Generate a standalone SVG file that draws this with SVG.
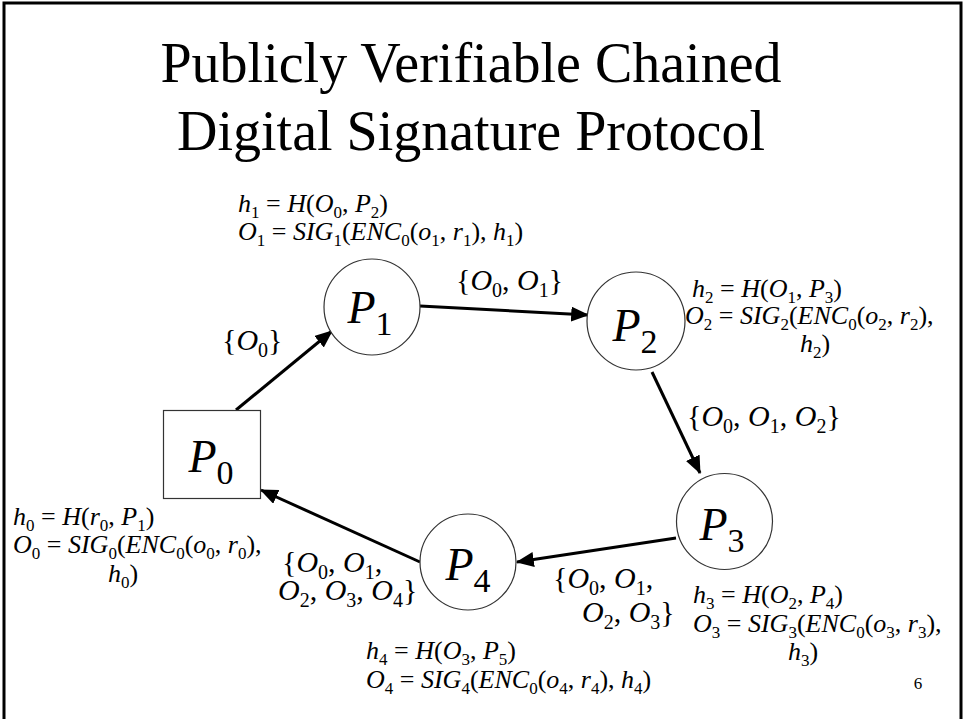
<svg xmlns="http://www.w3.org/2000/svg" width="965" height="719" viewBox="0 0 965 719">
<defs>
<style>
.t{font-family:"Liberation Serif","Times New Roman",serif;fill:#000}
.i{font-style:italic}
.eq{font-size:26px}
.eq .sb{font-size:17px}
.set{font-size:30px}
.set .sb{font-size:20px}
.nd{font-size:46px}
.nd .sb{font-size:34px}
.shape{fill:#fff;stroke:#333;stroke-width:1.2}
.edge{stroke:#000;stroke-width:3;fill:none;marker-end:url(#ah)}
</style>
<marker id="ah" viewBox="0 0 6 5" markerWidth="6" markerHeight="5" refX="5.6" refY="2.5" orient="auto">
<path d="M0,0 L6,2.5 L0,5 z" fill="#000"/>
</marker>
</defs>
<rect width="965" height="719" fill="#fff"/>
<rect x="4" y="3" width="957" height="740" fill="none" stroke="#000" stroke-width="3"/>

<text class="t" font-size="56" text-anchor="middle" x="471" y="82">Publicly Verifiable Chained</text>
<text class="t" font-size="56" text-anchor="middle" x="471" y="150">Digital Signature Protocol</text>

<g id="connectors">
<line class="edge" x1="236" y1="410" x2="332" y2="331"/>
<line class="edge" x1="420" y1="306" x2="588" y2="315"/>
<line class="edge" x1="652" y1="372" x2="700" y2="473"/>
<line class="edge" x1="676" y1="538" x2="517" y2="562"/>
<line class="edge" x1="420" y1="562" x2="261" y2="490"/>
</g>

<g id="P0">
<rect class="shape" x="163.5" y="410.5" width="97" height="88"/>
<text class="t nd" x="211" y="472" text-anchor="middle"><tspan class="i">P</tspan><tspan class="sb" dy="12">0</tspan></text>
</g>
<g id="P1">
<circle class="shape" cx="372" cy="307" r="48"/>
<text class="t nd" x="370" y="323" text-anchor="middle"><tspan class="i">P</tspan><tspan class="sb" dy="12">1</tspan></text>
</g>
<g id="P2">
<circle class="shape" cx="636" cy="321" r="49"/>
<text class="t nd" x="635" y="341" text-anchor="middle"><tspan class="i">P</tspan><tspan class="sb" dy="12">2</tspan></text>
</g>
<g id="P3">
<circle class="shape" cx="724.5" cy="521.5" r="48"/>
<text class="t nd" x="722" y="540" text-anchor="middle"><tspan class="i">P</tspan><tspan class="sb" dy="12">3</tspan></text>
</g>
<g id="P4">
<circle class="shape" cx="468" cy="562" r="48"/>
<text class="t nd" x="468" y="580" text-anchor="middle"><tspan class="i">P</tspan><tspan class="sb" dy="12">4</tspan></text>
</g>

<g id="edge-labels">
<text class="t set" x="222" y="350">{<tspan class="i">O</tspan><tspan class="sb" dy="7">0</tspan><tspan dy="-7">}</tspan></text>
<text class="t set" x="456" y="290">{<tspan class="i">O</tspan><tspan class="sb" dy="7">0</tspan><tspan dy="-7">, </tspan><tspan class="i">O</tspan><tspan class="sb" dy="7">1</tspan><tspan dy="-7">}</tspan></text>
<text class="t set" x="687" y="426">{<tspan class="i">O</tspan><tspan class="sb" dy="7">0</tspan><tspan dy="-7">, </tspan><tspan class="i">O</tspan><tspan class="sb" dy="7">1</tspan><tspan dy="-7">, </tspan><tspan class="i">O</tspan><tspan class="sb" dy="7">2</tspan><tspan dy="-7">}</tspan></text>
<text class="t set" x="553" y="588">{<tspan class="i">O</tspan><tspan class="sb" dy="7">0</tspan><tspan dy="-7">, </tspan><tspan class="i">O</tspan><tspan class="sb" dy="7">1</tspan><tspan dy="-7">,</tspan></text>
<text class="t set" x="582" y="622"><tspan class="i">O</tspan><tspan class="sb" dy="7">2</tspan><tspan dy="-7">, </tspan><tspan class="i">O</tspan><tspan class="sb" dy="7">3</tspan><tspan dy="-7">}</tspan></text>
<text class="t set" x="282" y="572">{<tspan class="i">O</tspan><tspan class="sb" dy="7">0</tspan><tspan dy="-7">, </tspan><tspan class="i">O</tspan><tspan class="sb" dy="7">1</tspan><tspan dy="-7">,</tspan></text>
<text class="t set" x="278" y="600"><tspan class="i">O</tspan><tspan class="sb" dy="7">2</tspan><tspan dy="-7">, </tspan><tspan class="i">O</tspan><tspan class="sb" dy="7">3</tspan><tspan dy="-7">, </tspan><tspan class="i">O</tspan><tspan class="sb" dy="7">4</tspan><tspan dy="-7">}</tspan></text>
</g>

<g id="notes">
<!-- P1 -->
<text class="t eq" x="238" y="212"><tspan class="i">h</tspan><tspan class="sb" dy="6">1</tspan><tspan dy="-6"> = </tspan><tspan class="i">H</tspan><tspan>(</tspan><tspan class="i">O</tspan><tspan class="sb" dy="6">0</tspan><tspan dy="-6">, </tspan><tspan class="i">P</tspan><tspan class="sb" dy="6">2</tspan><tspan dy="-6">)</tspan></text>
<text class="t eq" x="238" y="240"><tspan class="i">O</tspan><tspan class="sb" dy="6">1</tspan><tspan dy="-6"> = </tspan><tspan class="i">SIG</tspan><tspan class="sb" dy="6">1</tspan><tspan dy="-6">(</tspan><tspan class="i">ENC</tspan><tspan class="sb" dy="6">0</tspan><tspan dy="-6">(</tspan><tspan class="i">o</tspan><tspan class="sb" dy="6">1</tspan><tspan dy="-6">, </tspan><tspan class="i">r</tspan><tspan class="sb" dy="6">1</tspan><tspan dy="-6">), </tspan><tspan class="i">h</tspan><tspan class="sb" dy="6">1</tspan><tspan dy="-6">)</tspan></text>
<!-- P2 -->
<text class="t eq" x="692" y="297"><tspan class="i">h</tspan><tspan class="sb" dy="6">2</tspan><tspan dy="-6"> = </tspan><tspan class="i">H</tspan><tspan>(</tspan><tspan class="i">O</tspan><tspan class="sb" dy="6">1</tspan><tspan dy="-6">, </tspan><tspan class="i">P</tspan><tspan class="sb" dy="6">3</tspan><tspan dy="-6">)</tspan></text>
<text class="t eq" x="685" y="324"><tspan class="i">O</tspan><tspan class="sb" dy="6">2</tspan><tspan dy="-6"> = </tspan><tspan class="i">SIG</tspan><tspan class="sb" dy="6">2</tspan><tspan dy="-6">(</tspan><tspan class="i">ENC</tspan><tspan class="sb" dy="6">0</tspan><tspan dy="-6">(</tspan><tspan class="i">o</tspan><tspan class="sb" dy="6">2</tspan><tspan dy="-6">, </tspan><tspan class="i">r</tspan><tspan class="sb" dy="6">2</tspan><tspan dy="-6">),</tspan></text>
<text class="t eq" x="815" y="352" text-anchor="middle"><tspan class="i">h</tspan><tspan class="sb" dy="6">2</tspan><tspan dy="-6">)</tspan></text>
<!-- P0 -->
<text class="t eq" x="13" y="525"><tspan class="i">h</tspan><tspan class="sb" dy="6">0</tspan><tspan dy="-6"> = </tspan><tspan class="i">H</tspan><tspan>(</tspan><tspan class="i">r</tspan><tspan class="sb" dy="6">0</tspan><tspan dy="-6">, </tspan><tspan class="i">P</tspan><tspan class="sb" dy="6">1</tspan><tspan dy="-6">)</tspan></text>
<text class="t eq" x="13" y="553"><tspan class="i">O</tspan><tspan class="sb" dy="6">0</tspan><tspan dy="-6"> = </tspan><tspan class="i">SIG</tspan><tspan class="sb" dy="6">0</tspan><tspan dy="-6">(</tspan><tspan class="i">ENC</tspan><tspan class="sb" dy="6">0</tspan><tspan dy="-6">(</tspan><tspan class="i">o</tspan><tspan class="sb" dy="6">0</tspan><tspan dy="-6">, </tspan><tspan class="i">r</tspan><tspan class="sb" dy="6">0</tspan><tspan dy="-6">),</tspan></text>
<text class="t eq" x="123" y="582" text-anchor="middle"><tspan class="i">h</tspan><tspan class="sb" dy="6">0</tspan><tspan dy="-6">)</tspan></text>
<!-- P3 -->
<text class="t eq" x="693" y="603"><tspan class="i">h</tspan><tspan class="sb" dy="6">3</tspan><tspan dy="-6"> = </tspan><tspan class="i">H</tspan><tspan>(</tspan><tspan class="i">O</tspan><tspan class="sb" dy="6">2</tspan><tspan dy="-6">, </tspan><tspan class="i">P</tspan><tspan class="sb" dy="6">4</tspan><tspan dy="-6">)</tspan></text>
<text class="t eq" x="693" y="632"><tspan class="i">O</tspan><tspan class="sb" dy="6">3</tspan><tspan dy="-6"> = </tspan><tspan class="i">SIG</tspan><tspan class="sb" dy="6">3</tspan><tspan dy="-6">(</tspan><tspan class="i">ENC</tspan><tspan class="sb" dy="6">0</tspan><tspan dy="-6">(</tspan><tspan class="i">o</tspan><tspan class="sb" dy="6">3</tspan><tspan dy="-6">, </tspan><tspan class="i">r</tspan><tspan class="sb" dy="6">3</tspan><tspan dy="-6">),</tspan></text>
<text class="t eq" x="803" y="660" text-anchor="middle"><tspan class="i">h</tspan><tspan class="sb" dy="6">3</tspan><tspan dy="-6">)</tspan></text>
<!-- P4 -->
<text class="t eq" x="366" y="659"><tspan class="i">h</tspan><tspan class="sb" dy="6">4</tspan><tspan dy="-6"> = </tspan><tspan class="i">H</tspan><tspan>(</tspan><tspan class="i">O</tspan><tspan class="sb" dy="6">3</tspan><tspan dy="-6">, </tspan><tspan class="i">P</tspan><tspan class="sb" dy="6">5</tspan><tspan dy="-6">)</tspan></text>
<text class="t eq" x="366" y="688"><tspan class="i">O</tspan><tspan class="sb" dy="6">4</tspan><tspan dy="-6"> = </tspan><tspan class="i">SIG</tspan><tspan class="sb" dy="6">4</tspan><tspan dy="-6">(</tspan><tspan class="i">ENC</tspan><tspan class="sb" dy="6">0</tspan><tspan dy="-6">(</tspan><tspan class="i">o</tspan><tspan class="sb" dy="6">4</tspan><tspan dy="-6">, </tspan><tspan class="i">r</tspan><tspan class="sb" dy="6">4</tspan><tspan dy="-6">), </tspan><tspan class="i">h</tspan><tspan class="sb" dy="6">4</tspan><tspan dy="-6">)</tspan></text>
</g>

<text class="t" font-size="17" x="918" y="689" text-anchor="middle">6</text>
</svg>
